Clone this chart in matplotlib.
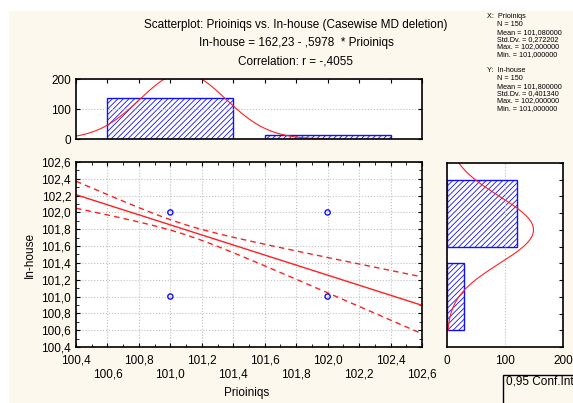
import matplotlib.pyplot as plt
from matplotlib.patches import Rectangle
from matplotlib.ticker import MultipleLocator, FuncFormatter
import numpy as np

plt.rcParams['font.family'] = ['Liberation Sans', 'DejaVu Sans']
plt.rcParams['hatch.linewidth'] = 0.6

# data
N = 150
X_VALUES = [101.0, 102.0]
X_COUNTS = [138, 12]
Y_VALUES = [101.0, 102.0]
Y_COUNTS = [30, 120]
X_MEAN, X_SD = 101.08, 0.272202
Y_MEAN, Y_SD = 101.8, 0.401340
INTERCEPT, SLOPE = 162.23, -0.5978
R = -0.4055
POINTS_X = [101.0, 101.0, 102.0, 102.0]
POINTS_Y = [102.0, 101.0, 102.0, 101.0]

CREAM = '#fdf8ee'
BLUE = '#1010ff'
RED = '#ff2020'

W, H = 573, 403
fig = plt.figure(figsize=(W / 100, H / 100), dpi=100)
fig.patch.set_facecolor('white')
fig.patches.append(Rectangle((9 / W, 0), 1, 1 - 11 / H, transform=fig.transFigure,
                             facecolor=CREAM, edgecolor='none', zorder=-10))


def box(l, t, r, b):
    return [l / W, 1 - b / H, (r - l) / W, (b - t) / H]


comma = FuncFormatter(lambda v, p: f'{v:.1f}'.replace('.', ','))
FS = 8.5

# main scatter
ax = fig.add_axes(box(76, 162, 422, 347))
ax.set_xlim(100.4, 102.6)
ax.set_ylim(100.4, 102.6)
xs = np.linspace(100.4, 102.6, 200)
fit = INTERCEPT + SLOPE * xs
s_res = Y_SD * np.sqrt(1 - R ** 2) * np.sqrt((N - 1) / (N - 2))
se = s_res * np.sqrt(1 / N + (xs - X_MEAN) ** 2 / ((N - 1) * X_SD ** 2))
ax.plot(xs, fit, color=RED, lw=1)
ax.plot(xs, fit + 1.976 * se, color=RED, lw=1, ls=(0, (4, 3)))
ax.plot(xs, fit - 1.976 * se, color=RED, lw=1, ls=(0, (4, 3)))
ax.scatter(POINTS_X, POINTS_Y, s=14, facecolor='none', edgecolor=BLUE, lw=1, zorder=5, clip_on=False)
ax.xaxis.set_major_locator(MultipleLocator(0.2))
ax.xaxis.set_minor_locator(MultipleLocator(0.1))
ax.yaxis.set_major_locator(MultipleLocator(0.2))
ax.yaxis.set_minor_locator(MultipleLocator(0.1))
ax.yaxis.set_major_formatter(comma)
ax.set_xticklabels([])
ax.grid(True, which='major', color='#c0c0c0', ls=':', lw=0.8)
ax.tick_params(which='both', direction='in', top=True, right=True, labelsize=FS, length=3)
ax.tick_params(which='minor', length=2)
ticks = np.arange(100.4, 102.61, 0.2)
for i, t in enumerate(ticks):
    ax.text(t, -0.075 if i % 2 == 0 else -0.15, f'{t:.1f}'.replace('.', ','),
            transform=ax.get_xaxis_transform(), ha='center', va='center', fontsize=FS)
ax.set_ylabel('In-house', fontsize=FS)
fig.text(247 / W, 1 - 393 / H, 'Prioiniqs', ha='center', va='center', fontsize=FS)
for s in ax.spines.values():
    s.set_linewidth(1.2)

# top histogram
axt = fig.add_axes(box(76, 79, 422, 139))
axt.bar(X_VALUES, X_COUNTS, width=0.8, facecolor='white', edgecolor=BLUE, hatch='//////', lw=1)
xc = np.linspace(100.4, 102.0, 200)
axt.plot(xc, N / (X_SD * np.sqrt(2 * np.pi)) * np.exp(-0.5 * ((xc - X_MEAN) / X_SD) ** 2), color=RED, lw=0.8)
axt.set_xlim(100.4, 102.6)
axt.set_ylim(0, 200)
axt.set_yticks([0, 100, 200])
axt.xaxis.set_major_locator(MultipleLocator(0.2))
axt.set_xticklabels([])
axt.grid(True, axis='y', color='#c0c0c0', ls=':', lw=0.8)
axt.tick_params(direction='in', top=True, bottom=False, right=True, labelsize=FS, length=3)
for s in axt.spines.values():
    s.set_linewidth(1.2)

# right histogram
axr = fig.add_axes(box(447, 163, 563, 347))
axr.barh(Y_VALUES, Y_COUNTS, height=0.8, facecolor='white', edgecolor=BLUE, hatch='//////', lw=1)
yc = np.linspace(100.6, 102.6, 200)
axr.plot(N / (Y_SD * np.sqrt(2 * np.pi)) * np.exp(-0.5 * ((yc - Y_MEAN) / Y_SD) ** 2), yc, color=RED, lw=0.8)
axr.set_ylim(100.4, 102.6)
axr.set_xlim(0, 200)
axr.set_xticks([0, 100, 200])
axr.yaxis.set_major_locator(MultipleLocator(0.2))
axr.set_yticklabels([])
axr.grid(True, axis='x', color='#c0c0c0', ls=':', lw=0.8)
axr.tick_params(axis='y', direction='in', left=False, right=True, length=3)
axr.tick_params(axis='x', direction='in', length=0, labelsize=FS, pad=6)
for s in axr.spines.values():
    s.set_linewidth(1.2)

# titles
cx = 296 / W
fig.text(cx, 1 - 25 / H, 'Scatterplot: Prioiniqs vs. In-house (Casewise MD deletion)', ha='center', va='center', fontsize=FS)
fig.text(cx, 1 - 43 / H, 'In-house = 162,23 - ,5978  * Prioiniqs', ha='center', va='center', fontsize=FS)
fig.text(cx, 1 - 61 / H, 'Correlation: r = -,4055', ha='center', va='center', fontsize=FS)

# stats block
stats_x = ['N = 150', 'Mean = 101,080000', 'Std.Dv. = 0,272202', 'Max. = 102,000000', 'Min. = 101,000000']
stats_y = ['N = 150', 'Mean = 101,800000', 'Std.Dv. = 0,401340', 'Max. = 102,000000', 'Min. = 101,000000']
SF = 5.2
fig.text(487 / W, 1 - 17 / H, 'X:  Prioiniqs', fontsize=SF, va='center')
for i, t in enumerate(stats_x):
    fig.text(497 / W, 1 - (25 + 7.3 * i) / H, t, fontsize=SF, va='center')
fig.text(487 / W, 1 - 71 / H, 'Y:  In-house', fontsize=SF, va='center')
for i, t in enumerate(stats_y):
    fig.text(497 / W, 1 - (79 + 7.3 * i) / H, t, fontsize=SF, va='center')

# conf. int box
fig.patches.append(Rectangle((503 / W, -0.1), 1, 1 - 375 / H + 0.1, transform=fig.transFigure,
                             facecolor='none', edgecolor='black', lw=1))
fig.text(506 / W, 1 - 382 / H, '0,95 Conf.Int', fontsize=FS, va='center')

fig.savefig('out.png', dpi=100, facecolor=fig.get_facecolor())
